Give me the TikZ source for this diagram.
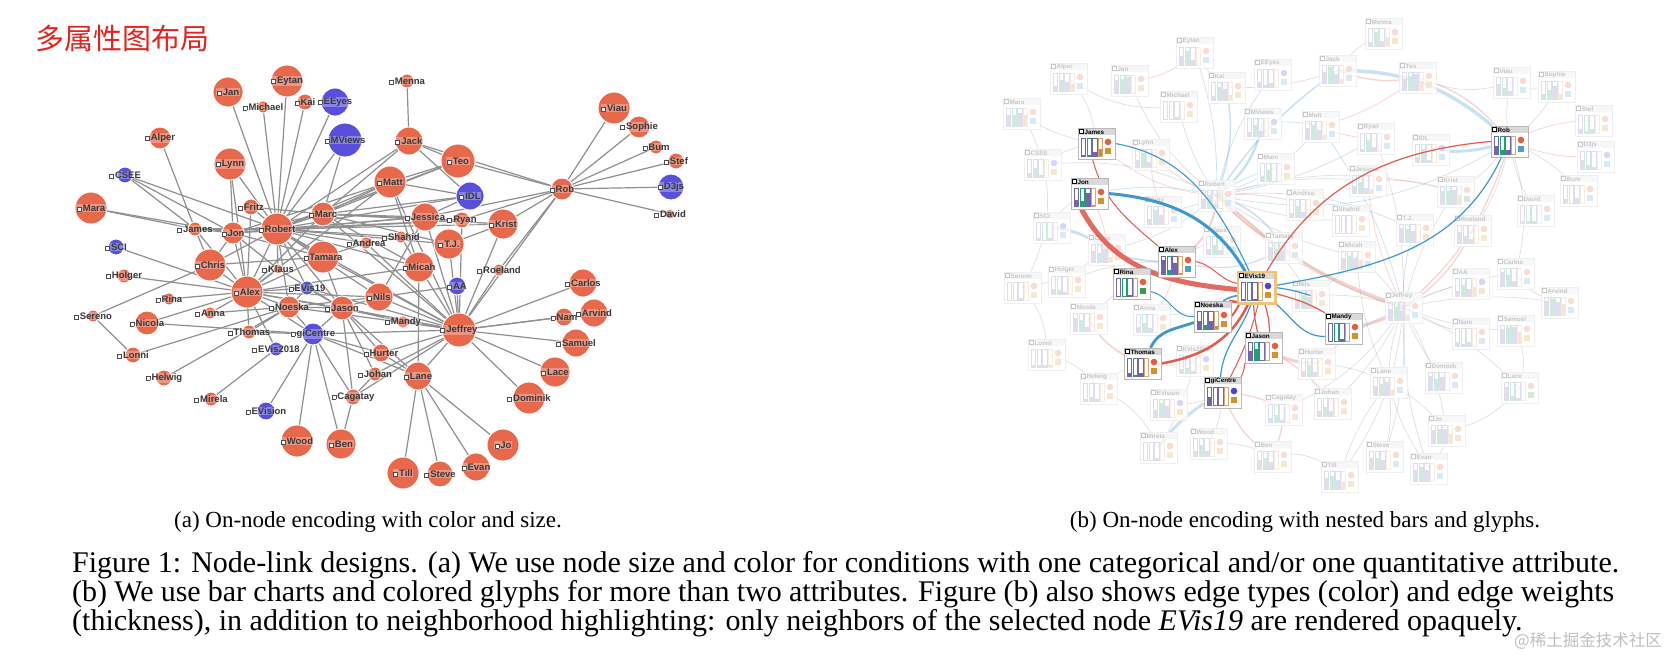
\documentclass[tikz,border=0pt]{standalone}
\usepackage{fontspec}
\setmainfont{Liberation Serif}
\newfontfamily\labsans{Liberation Sans}
\newfontfamily\cjkfont{Noto Sans CJK SC}
\definecolor{nodeor}{HTML}{E8684C}
\definecolor{nodebl}{HTML}{5850DC}
\definecolor{edgegr}{HTML}{8F8F8F}
\definecolor{titlered}{HTML}{E3231E}
\definecolor{barpu}{HTML}{7464AE}
\definecolor{bargr}{HTML}{22A070}
\definecolor{baror}{HTML}{D9A878}
\definecolor{barorf}{HTML}{D0883A}
\definecolor{glred}{HTML}{E2603C}
\definecolor{glblue}{HTML}{4A40E0}
\definecolor{sqor}{HTML}{D4922E}
\definecolor{sqbl}{HTML}{4A9ED0}
\definecolor{sqgr}{HTML}{3E9A48}
\definecolor{hdr}{HTML}{D9D9D9}
\definecolor{bdr}{HTML}{B8B8B8}
\definecolor{hlred}{HTML}{E25A50}
\definecolor{hlblue}{HTML}{3E98CC}
\definecolor{evor}{HTML}{F2C27C}
\newcommand{\sqmark}{\raisebox{0.5pt}{\setlength{\fboxsep}{0pt}\setlength{\fboxrule}{0.7pt}\fcolorbox{black!70}{white}{\rule{0pt}{3.3pt}\rule{3.3pt}{0pt}}}\hspace{1.2pt}}
\newcommand{\rlabfont}{\labsans\bfseries\fontsize{6.3}{7}\selectfont}
\def\tnt{100}
\def\bop{1}
\def\curname{x}
\newcommand{\drawbox}[9]{%
\begin{scope}[shift={(#1,#2)}]
 \fill[white, fill opacity=\bop] (0,0) rectangle (37,31);
 \fill[hdr!\tnt] (0,0) rectangle (37,7.3);
 \draw[bdr!\tnt, line width=0.6pt] (0,0) rectangle (37,31);
 \draw[fill=white, draw=black!\tnt, line width=0.7pt] (1.6,1.7) rectangle (5.7,5.8);
 \node[anchor=west, inner sep=0pt, font=\rlabfont, text=black!\tnt] (T\curname) at (6.4,3.9) {#3};
 \fill[barpu!\tnt] (3.3,28) rectangle (7.6,{28-18*#4});
 \fill[bargr!\tnt] (9,28) rectangle (13.3,{28-18*#5});
 \fill[barpu!\tnt] (14.7,28) rectangle (19,{28-18*#6});
 \fill[barorf!\tnt] (20.3,28) rectangle (24.6,{28-18*#7});
 \draw[barpu!\tnt, line width=0.6pt] (3.3,9.8) rectangle (7.6,28);
 \draw[bargr!\tnt, line width=0.6pt] (9,9.8) rectangle (13.3,28);
 \draw[barpu!\tnt, line width=0.6pt] (14.7,9.8) rectangle (19,28);
 \draw[baror!\tnt, line width=0.6pt] (20.3,9.8) rectangle (24.6,28);
 \fill[#8!\tnt] (30,14) circle (3.3pt);
 \fill[#9!\tnt] (27,19.7) rectangle (33,25.7);
\end{scope}}
\tikzset{
 ledge/.style={draw=edgegr, line width=1.2pt},
 lcirc/.style={circle, draw=white, line width=0.9pt, inner sep=0pt},
 llab/.style={font={\labsans\bfseries\fontsize{9.5}{10}\selectfont}, text=black!78, fill=white, fill opacity=0.3, text opacity=1, inner sep=0.6pt},
 fedge/.style={opacity=0.28},
 hedge/.style={line width=1.2pt},
 capfont/.style={font={\fontsize{30}{29}\selectfont}, inner sep=0pt, anchor=base west},
 subcap/.style={font={\fontsize{23}{26}\selectfont}, inner sep=0pt, anchor=base}
}
\def\leftnodes{Jan/228/92/15/nodeor/Jan,%
Eytan/287/81/16/nodeor/Eytan,%
Michael/263/107/6/nodeor/Michael,%
Kai/305/102/8/nodeor/Kai,%
EEyes/335/102/14/nodebl/EEyes,%
MViews/345/140/17/nodebl/MViews,%
Alper/160/138/11/nodeor/Alper,%
Lynn/230/164/16/nodeor/Lynn,%
CSEE/125/175/8/nodebl/CSEE,%
Mara/91/208/16/nodeor/Mara,%
Fritz/251/207/8/nodeor/Fritz,%
Marc/323/214/12/nodeor/Marc,%
James/195/229/7/nodeor/James,%
Jon/233/233/11/nodeor/Jon,%
Robert/277/229/16/nodeor/Robert,%
SCI/116/247/8/nodebl/SCI,%
Tamara/323/257/16/nodeor/Tamara,%
Chris/210/265/16/nodeor/Chris,%
Holger/124/276/7/nodeor/Holger,%
Klaus/278/269/5/nodeor/Klaus,%
Andrea/366/243/6/nodeor/Andrea,%
Menna/407/81/7/nodeor/Menna,%
Jack/409/141/14/nodeor/Jack,%
Teo/458/161/17/nodeor/Teo,%
Matt/390/182/16/nodeor/Matt,%
IDL/470/196/14/nodebl/IDL,%
Viau/614/108/16/nodeor/Viau,%
Sophie/639/127/11/nodeor/Sophie,%
Bum/656/147/7/nodeor/Bum,%
Stef/676/161/8/nodeor/Stef,%
D3js/671/187/13/nodebl/D3js,%
David/670/214/5/nodeor/David,%
Rob/562/189/11/nodeor/Rob,%
Jessica/425/217/14/nodeor/Jessica,%
Ryan/462/220/8/nodeor/Ryan,%
Krist/503/224/15/nodeor/Krist,%
Shahid/401/237/6/nodeor/Shahid,%
TJ/449/244/15/nodeor/T.J.,%
Micah/419/267/15/nodeor/Micah,%
Roeland/499/270/6/nodeor/Roeland,%
Alex/247/292/16/nodeor/Alex,%
EVis19/307/288/7/nodebl/EVis19,%
Rina/169/299/6/nodeor/Rina,%
Noeska/289/307/11/nodeor/Noeska,%
Jason/342/308/12/nodeor/Jason,%
Sereno/93/316/6/nodeor/Sereno,%
Nicola/147/323/12/nodeor/Nicola,%
Anna/210/313/6/nodeor/Anna,%
Thomas/249/332/7/nodeor/Thomas,%
giCentre/313/334/11/nodebl/giCentre,%
EVis2018/276/349/7/nodebl/EVis2018,%
Lonni/133/355/8/nodeor/Lonni,%
Helwig/164/378/8/nodeor/Helwig,%
Mirela/211/399/7/nodeor/Mirela,%
EVision/266/411/9/nodebl/EVision,%
Wood/297/441/16/nodeor/Wood,%
Ben/341/444/15/nodeor/Ben,%
Cagatay/353/397/8/nodeor/Cagatay,%
AA/457/286/9/nodebl/AA,%
Nils/379/297/14/nodeor/Nils,%
Mandy/403/322/6/nodeor/Mandy,%
Jeffrey/459/330/17/nodeor/Jeffrey,%
Hurter/381/353/9/nodeor/Hurter,%
Johan/375/374/7/nodeor/Johan,%
Lane/418/376/14/nodeor/Lane,%
Carlos/583/283/14/nodeor/Carlos,%
Nam/564/317/9/nodeor/Nam,%
Arvind/594/313/14/nodeor/Arvind,%
Samuel/576/343/14/nodeor/Samuel,%
Lace/555/372/15/nodeor/Lace,%
Dominik/529/398/16/nodeor/Dominik,%
Jo/503/445/16/nodeor/Jo,%
Till/403/473/16/nodeor/Till,%
Steve/440/474/13/nodeor/Steve,%
Evan/476/467/14/nodeor/Evan}
\def\leftedges{Robert/Jan,Robert/Eytan,Robert/Michael,Robert/Kai,Robert/EEyes,Robert/MViews,Robert/Lynn,Robert/Fritz,Robert/CSEE,Robert/James,Robert/Jon,Robert/Chris,Robert/Marc,Robert/Tamara,Robert/Klaus,Robert/Alex,Robert/Jack,Robert/Matt,Robert/Teo,Robert/Jessica,Robert/Ryan,Robert/Krist,Robert/Shahid,Robert/Andrea,Robert/TJ,Robert/Micah,Robert/Jeffrey,Robert/Nils,Robert/Jason,Robert/EVis19,Robert/Noeska,Robert/IDL,%
Marc/Matt,Marc/Jack,Marc/Teo,Marc/Jessica,Marc/Ryan,Marc/Krist,Marc/IDL,Marc/TJ,Marc/Micah,Marc/Jeffrey,Marc/Fritz,Marc/Jon,Marc/Alex,Marc/MViews,%
Jon/James,Jon/Alex,Jon/Chris,Jon/Klaus,Jon/Mara,Jon/CSEE,Jon/Matt,Jon/Jessica,Jon/Tamara,Jon/Lynn,Jon/Ryan,%
Alex/Chris,Alex/Holger,Alex/SCI,Alex/Rina,Alex/Anna,Alex/Nicola,Alex/Thomas,Alex/EVis2018,Alex/Noeska,Alex/Jason,Alex/EVis19,Alex/Klaus,Alex/Tamara,Alex/Lynn,Alex/Fritz,Alex/James,Alex/Jeffrey,Alex/Micah,Alex/giCentre,Alex/Nils,Alex/Matt,%
Chris/Sereno,Chris/James,Chris/Tamara,%
Noeska/Anna,Noeska/Lonni,Noeska/Helwig,Noeska/Thomas,Noeska/Jason,Noeska/giCentre,Noeska/Jeffrey,Noeska/EVis19,Noeska/Nils,%
giCentre/Wood,giCentre/Ben,giCentre/EVision,giCentre/Cagatay,giCentre/Jason,giCentre/Jeffrey,giCentre/Lane,giCentre/Nicola,giCentre/Thomas,giCentre/Hurter,%
Jason/Jeffrey,Jason/Hurter,Jason/Lane,Jason/Nils,Jason/Tamara,Jason/Mandy,Jason/EVis19,Jason/Cagatay,Jason/Johan,%
Jeffrey/Carlos,Jeffrey/Nam,Jeffrey/Arvind,Jeffrey/Samuel,Jeffrey/Lace,Jeffrey/Dominik,Jeffrey/AA,Jeffrey/Roeland,Jeffrey/Krist,Jeffrey/Ryan,Jeffrey/TJ,Jeffrey/Micah,Jeffrey/Nils,Jeffrey/Mandy,Jeffrey/Hurter,Jeffrey/Johan,Jeffrey/Lane,Jeffrey/Rob,Jeffrey/Jessica,Jeffrey/Matt,Jeffrey/Tamara,Jeffrey/Cagatay,Jeffrey/EVis19,%
Lane/Till,Lane/Steve,Lane/Evan,Lane/Jo,Lane/Micah,Lane/Hurter,%
Rob/Viau,Rob/Sophie,Rob/Bum,Rob/Stef,Rob/D3js,Rob/David,Rob/Krist,Rob/Ryan,Rob/Roeland,Rob/Jessica,Rob/Jack,Rob/Teo,%
Menna/Jack,Jack/Teo,Jack/IDL,Matt/Teo,Matt/IDL,Matt/Micah,Alper/James,Mara/James,Sereno/Lonni,Mirela/EVis2018,Ben/Cagatay,Nils/AA,Jessica/IDL,TJ/Krist,Shahid/Micah,Andrea/Tamara,Andrea/Jeffrey,Klaus/Jason,Nils/Jessica,Johan/Cagatay,CSEE/James}
\def\rightfaded{Menna/Menna/1365/18/.2/.8/.3/.5/glred/sqor,%
Eytan/Eytan/1176/37/.5/.8/.3/0/glred/sqbl,%
Jack/Jack/1319/55/.6/.9/.5/.2/glred/sqbl,%
Alper/Alper/1050/63/.3/.6/.5/.4/glred/sqbl,%
Jan/Jan/1111/65/.7/.8/.9/0/glred/sqor,%
EEyes/EEyes/1254/59/.3/.1/.2/0/glblue/sqbl,%
Teo/Teo/1399/62/.6/.8/.9/.5/glred/sqor,%
Kai/Kai/1208/72/.2/.7/.6/.3/glred/sqor,%
Viau/Viau/1493/67/.6/.4/.2/0/glred/sqbl,%
Sophie/Sophie/1538/71/.3/.5/.7/.3/glred/sqbl,%
Michael/Michael/1160/91/0/0/.1/0/glred/sqor,%
Mara/Mara/1003/98/.6/.6/.7/.6/glred/sqbl,%
Stef/Stef/1575/105/.2/.1/.2/0/glred/sqor,%
MViews/MViews/1244/108/.2/.6/.3/0/glblue/sqbl,%
Matt/Matt/1302/111/.6/.8/.5/.2/glred/sqbl,%
Ryan/Ryan/1357/123/.1/.6/.2/0/glred/sqbl,%
IDL/IDL/1412/134/.3/.7/.1/0/glblue/sqbl,%
Lynn/Lynn/1132/139/.4/.8/.3/0/glred/sqor,%
CSEE/CSEE/1024/149/.2/.5/.1/0/glblue/sqor,%
D3js/D3js/1577/141/.5/.2/.1/0/glblue/sqbl,%
Marc/Marc/1257/153/.3/.6/0/0/glred/sqor,%
Jessica/Jessica/1349/165/.4/.6/.3/.2/glred/sqbl,%
Krist/Krist/1437/176/.7/.7/.8/.5/glred/sqgr,%
Bum/Bum/1560/175/.2/0/.3/0/glred/sqbl,%
Robert/Robert/1198/180/.5/.7/.2/0/glred/sqbl,%
David/David/1517/195/.1/.1/.1/0/glred/sqbl,%
Andrea/Andrea/1286/189/.2/.6/.3/0/glred/sqor,%
Fritz/Fritz/1144/196/.3/.8/.5/0/glred/sqbl,%
Shahid/Shahid/1332/205/0/0/0/0/glred/sqor,%
SCI/SCI/1033/212/.1/0/.1/0/glblue/sqbl,%
TJ/T.J./1396/214/.8/.7/.6/0/glred/sqor,%
Roeland/Roeland/1454/215/.6/.4/.2/0/glred/sqor,%
Klaus/Klaus/1203/226/.3/.5/.2/0/glred/sqbl,%
Chris/Chris/1088/234/.6/.5/.7/.3/glred/sqor,%
Tamara/Tamara/1265/232/.7/.6/.5/0/glred/sqbl,%
Micah/Micah/1338/241/.6/.7/.6/.5/glred/sqbl,%
Carlos/Carlos/1497/258/.8/.6/.3/0/glred/sqbl,%
AA/AA/1452/268/.3/.6/.4/.5/glblue/sqor,%
Sereno/Sereno/1004/272/0/0/.1/0/glred/sqor,%
Holger/Holger/1048/266/.3/.2/.1/0/glred/sqor,%
Arvind/Arvind/1541/287/.8/.9/.7/.6/glred/sqbl,%
Nils/Nils/1292/280/.5/.7/.6/0/glred/sqor,%
Jeffrey/Jeffrey/1385/292/.6/.7/.5/.3/glred/sqbl,%
Nicola/Nicola/1070/303/.7/.6/.2/0/glred/sqor,%
Anna/Anna/1133/304/.3/.5/.2/0/glred/sqor,%
Nam/Nam/1452/318/.2/.1/.2/0/glred/sqbl,%
Samuel/Samuel/1497/315/.8/.9/.9/.6/glred/sqor,%
Lonni/Lonni/1028/339/.1/.1/.1/.1/glred/sqor,%
Hurter/Hurter/1298/348/.3/.6/.2/0/glred/sqor,%
EVis2018/EVis2018/1176/345/.2/.3/.1/0/glblue/sqor,%
Dominik/Dominik/1425/362/.8/.6/.7/0/glred/sqbl,%
Lane/Lane/1370/367/.5/.6/.7/.3/glred/sqbl,%
Lace/Lace/1501/372/.7/.2/.1/0/glred/sqgr,%
Helwig/Helwig/1080/373/.1/.2/.1/0/glred/sqor,%
Johan/Johan/1314/388/.3/.5/.3/0/glred/sqor,%
EVision/EVision/1150/389/.4/.8/.6/0/glblue/sqor,%
Cagatay/Cagatay/1265/394/.2/.4/.1/0/glred/sqor,%
Jo/Jo/1428/415/.7/.8/.8/.5/glred/sqor,%
Mirela/Mirela/1140/432/0/0/.1/0/glred/sqor,%
Wood/Wood/1190/428/.3/.6/.3/0/glred/sqor,%
Ben/Ben/1254/441/.5/.6/.4/0/glred/sqor,%
Steve/Steve/1366/441/.6/.6/.5/0/glred/sqbl,%
Evan/Evan/1410/453/.6/.8/.6/0/glred/sqbl,%
Till/Till/1321/461/.6/.7/.5/.4/glred/sqor}
\def\righthl{James/James/1078/128/.08/.05/.2/.4/glred/sqor,%
Jon/Jon/1071/178/.35/.3/.75/.05/glred/sqor,%
Alex/Alex/1158/246/.8/.25/.6/.05/glred/sqbl,%
Rina/Rina/1113/268/0/0/.05/0/glred/sqgr,%
EVis19/EVis19/1238/272/.05/0/.05/0/glblue/sqor,%
Noeska/Noeska/1194/301/.45/.2/.45/.15/glred/sqor,%
Jason/Jason/1245/332/.5/.6/0/0/glred/sqor,%
Mandy/Mandy/1325/313/0/0/.1/0/glred/sqor,%
Thomas/Thomas/1124/348/.15/.06/.15/0/glred/sqor,%
giCentre/giCentre/1204/377/.45/0/0/0/glblue/sqor,%
Rob/Rob/1491/126/.45/.2/.25/0/glred/sqbl}
\def\fadededges{Robert/Jan/15/edgegr/0.7,Robert/Eytan/-10/hlblue/0.7,Robert/Michael/10/edgegr/0.7,Robert/Kai/-15/hlblue/1.5,Robert/EEyes/12/hlblue/0.7,Robert/MViews/-20/hlblue/2.5,Robert/Lynn/10/hlred/0.7,Robert/Fritz/10/edgegr/0.7,Robert/CSEE/-15/edgegr/0.7,Robert/James/15/hlred/0.7,Robert/Jon/-10/hlblue/0.7,Robert/Chris/15/edgegr/0.7,Robert/Klaus/10/edgegr/0.7,Robert/Tamara/-10/hlred/0.7,Robert/Marc/10/hlblue/0.7,Robert/Matt/-15/edgegr/0.7,Robert/Jack/10/hlblue/1.5,Robert/Alex/20/hlred/2,Robert/Jessica/10/edgegr/0.7,Robert/Ryan/-10/hlblue/0.7,Robert/Krist/15/edgegr/0.7,Robert/Andrea/10/hlred/0.7,Robert/Shahid/-10/edgegr/0.7,Robert/TJ/15/hlblue/0.7,Robert/Micah/-10/edgegr/0.7,Robert/Jeffrey/-12/hlred/4,Robert/Nils/10/edgegr/0.7,Robert/Rob/-20/hlblue/0.7,Robert/Tamara/20/hlblue/1.5,%
Jeffrey/Carlos/10/edgegr/0.7,Jeffrey/Nam/-10/hlblue/0.7,Jeffrey/Arvind/10/edgegr/0.7,Jeffrey/Samuel/-10/edgegr/0.7,Jeffrey/Lace/10/edgegr/0.7,Jeffrey/Dominik/-10/hlblue/0.7,Jeffrey/AA/10/edgegr/0.7,Jeffrey/Roeland/-15/hlred/1.2,Jeffrey/Krist/10/edgegr/0.7,Jeffrey/Ryan/-10/edgegr/0.7,Jeffrey/TJ/10/hlblue/0.7,Jeffrey/Micah/-10/edgegr/0.7,Jeffrey/Hurter/-10/hlblue/0.7,Jeffrey/Johan/10/edgegr/0.7,Jeffrey/Lane/-10/edgegr/0.7,Jeffrey/Jessica/10/hlred/0.7,Jeffrey/Rob/-15/hlred/1.2,Jeffrey/Cagatay/15/edgegr/0.7,Jeffrey/Jo/10/edgegr/0.7,Jeffrey/Evan/-10/hlblue/0.7,Jeffrey/Steve/10/edgegr/0.7,Jeffrey/Till/15/edgegr/0.7,Jeffrey/Matt/-10/hlblue/0.7,Jeffrey/Tamara/10/edgegr/0.7,Jeffrey/Mandy/10/hlred/3,Jeffrey/Nils/-10/edgegr/0.7,%
Rob/Viau/10/edgegr/0.7,Rob/Sophie/-10/edgegr/0.7,Rob/Stef/10/hlred/0.7,Rob/D3js/-10/hlred/0.7,Rob/Bum/10/edgegr/0.7,Rob/David/-10/edgegr/0.7,Rob/Krist/10/edgegr/0.7,Rob/Teo/-15/hlred/1.2,Rob/Jack/-20/hlblue/3.5,Rob/IDL/10/hlblue/3,Rob/Roeland/10/edgegr/0.7,Rob/Carlos/15/edgegr/0.7,%
Lane/Till/-10/edgegr/0.7,Lane/Steve/10/edgegr/0.7,Lane/Evan/-10/edgegr/0.7,Lane/Jo/10/edgegr/0.7,Lane/Micah/10/edgegr/0.7,Lane/Hurter/-10/edgegr/0.7,%
giCentre/Wood/10/edgegr/0.7,giCentre/Ben/-15/hlred/1.2,giCentre/EVision/10/edgegr/0.7,giCentre/Mirela/-10/hlblue/3,giCentre/Cagatay/10/hlred/1.2,%
Alex/Chris/10/hlblue/2,Alex/Holger/-10/edgegr/0.7,Alex/Anna/10/hlred/0.7,Alex/Nicola/-10/edgegr/0.7,Alex/Klaus/10/edgegr/0.7,SCI/Chris/15/hlblue/3,Sereno/Chris/-15/edgegr/0.7,Sereno/Lonni/20/edgegr/0.7,Mara/James/-10/edgegr/0.7,Alper/James/15/edgegr/0.7,CSEE/James/10/edgegr/0.7,Helwig/Thomas/10/edgegr/0.7,Nicola/Thomas/-15/hlred/1.5,Anna/Noeska/10/edgegr/0.7,EVis2018/Thomas/10/edgegr/0.7,Mirela/EVis2018/-10/edgegr/0.7,Jason/Hurter/-10/hlred/3,Jason/Johan/10/hlred/1.2,Cagatay/Ben/10/hlred/1.2,Menna/Jack/-15/edgegr/0.7,Jack/Teo/-15/hlred/1.2,Teo/Matt/10/hlred/0.7,Matt/Ryan/-10/hlred/0.7,Jack/Kai/10/edgegr/0.7,Eytan/Kai/-10/edgegr/0.7,Jon/Chris/10/hlred/0.7,Jon/SCI/-15/hlblue/0.7,Mara/Sereno/30/edgegr/0.7,Lonni/Helwig/20/edgegr/0.7,Helwig/Mirela/20/edgegr/0.7,Wood/Ben/15/edgegr/0.7,Ben/Till/30/edgegr/0.7,Alper/Michael/-20/edgegr/0.7,Jan/Eytan/-20/hlred/0.7,Teo/Viau/-20/edgegr/0.7,Viau/Sophie/-20/edgegr/0.7,Samuel/Lace/20/edgegr/0.7,Lace/Jo/20/edgegr/0.7,Jo/Evan/20/edgegr/0.7,Carlos/Arvind/-20/edgegr/0.7,Jessica/Krist/10/hlred/0.7,Micah/Nils/10/hlblue/0.7,MViews/Matt/10/hlblue/0.7,Alex/Tamara/-20/hlblue/1.2,Fritz/Lynn/10/edgegr/0.7}
\begin{document}
\begin{tikzpicture}[x=1pt,y=-1pt]
\useasboundingbox (0,0) rectangle (1678,656);
\fill[white] (0,0) rectangle (1678,656);
% title
\node[font={\cjkfont\fontsize{29}{32}\selectfont}, text=titlered, inner sep=0pt] (title) at (122,38) {多属性图布局};
% ---------- left graph ----------
\foreach \nn/\xx/\yy/\rr/\cl/\lb in \leftnodes { \coordinate (L\nn) at (\xx,\yy); }
\foreach \a/\b in \leftedges { \draw[ledge] (L\a) -- (L\b); }
\foreach \nn/\xx/\yy/\rr/\cl/\lb in \leftnodes {
  \node[lcirc, fill=\cl, minimum size={2*\rr*1pt}] (C\nn) at (L\nn) {};
  \node[llab] (T\nn) at (L\nn) {\sqmark\lb};
}
% ---------- right graph ----------
\foreach \nn/\lb/\xx/\yy/\ha/\hb/\hc/\hd/\gc/\gs in \rightfaded { \coordinate (R\nn) at ({\xx+18.5},{\yy+15.5}); }
\foreach \nn/\lb/\xx/\yy/\ha/\hb/\hc/\hd/\gc/\gs in \righthl { \node[minimum width=37pt, minimum height=31pt, inner sep=0pt] (R\nn) at ({\xx+18.5},{\yy+15.5}) {}; }
\foreach \a/\b/\bd/\cl/\w in \fadededges { \draw[fedge, draw=\cl, line width=\w pt] (R\a) to[bend left=\bd] (R\b); }
\def\tnt{22}\def\bop{0.72}
\foreach \nn/\lb/\xx/\yy/\ha/\hb/\hc/\hd/\gc/\gs in \rightfaded { \def\curname{\nn}\drawbox{\xx}{\yy}{\lb}{\ha}{\hb}{\hc}{\hd}{\gc}{\gs} }
% highlighted edges
\draw[hedge, hlblue, line width=1.1pt] (RJames.east) to[out=-10,in=115] ([xshift=-7pt]REVis19.north);
\draw[hedge, hlblue, line width=3pt] (RJon.east) to[out=-5,in=120] ([xshift=-11pt]REVis19.north);
\draw[hedge, hlred, line width=5pt, opacity=0.9] ([xshift=-8pt]RJon.south) to[out=-62,in=175] ([yshift=-2pt]REVis19.west);
\draw[hedge, hlred, line width=1pt] ([xshift=-4pt]RJames.south) to[out=-75,in=140] (RAlex.north west);
\draw[hedge, hlred, line width=1pt] (RAlex.east) to[out=-10,in=170] ([yshift=4pt]REVis19.west);
\draw[hedge, hlblue, line width=1pt] ([yshift=-8pt]RRina.east) to[out=-10,in=185] (RNoeska.west);
\draw[hedge, hlred, line width=2.5pt] ([xshift=-2pt]RNoeska.north east) -- ([xshift=6pt]REVis19.south west);
\draw[hedge, hlred, line width=2pt] (RNoeska.east) to[bend right=10] ([xshift=3pt,yshift=3pt]REVis19.south west);
\draw[hedge, hlblue, line width=1.6pt] ([xshift=-8pt]RNoeska.north east) to[bend left=10] ([yshift=-8pt]REVis19.west);
\draw[hedge, hlblue, line width=2.8pt] ([xshift=8pt]RThomas.north) to[out=65,in=200] ([yshift=-6pt]RNoeska.west);
\draw[hedge, hlred, line width=2.5pt] (RThomas.east) to[out=10,in=245] ([xshift=-8pt]REVis19.south);
\draw[hedge, hlred] ([xshift=-3pt]REVis19.south) to[bend right=5] ([xshift=-6pt]RJason.north);
\draw[hedge, hlred] ([xshift=8pt]REVis19.south) to[bend left=8] ([xshift=6pt]RJason.north);
\draw[hedge, hlblue] ([xshift=-2pt]RgiCentre.north) to[out=85,in=250] ([xshift=-5pt]REVis19.south);
\draw[hedge, hlred, line width=1pt] ([xshift=2pt]REVis19.south) to[bend left=6] ([xshift=8pt]RgiCentre.north);
\draw[hedge, hlred, line width=1pt] (RgiCentre.north east) to[bend right=10] (RJason.south west);
\draw[hedge, hlblue] ([yshift=-8pt]RMandy.west) to[out=180,in=-40] (REVis19.south east);
\draw[hedge, hlred] ([yshift=-6pt]REVis19.east) to[out=-15,in=150] (RMandy.north west);
\draw[hedge, hlblue] (REVis19.east) to[bend left=5] (RNils);
\draw[hedge, hlred] (RRob.west) to[out=185,in=60] ([xshift=10pt]REVis19.north);
\draw[hedge, hlblue] ([xshift=-8pt]RRob.south) to[out=-115,in=10] ([yshift=2pt]REVis19.east);
% highlighted boxes
\def\tnt{100}\def\bop{1}
\foreach \nn/\lb/\xx/\yy/\ha/\hb/\hc/\hd/\gc/\gs in \righthl { \def\curname{\nn}\drawbox{\xx}{\yy}{\lb}{\ha}{\hb}{\hc}{\hd}{\gc}{\gs} }
\draw[evor, line width=2.6pt] (REVis19.south west) rectangle (REVis19.north east);
% ---------- captions ----------
\node[subcap] (capa) at (368,527) {(a) On-node encoding with color and size.};
\node[subcap] (capb) at (1305,527) {(b) On-node encoding with nested bars and glyphs.};
\node[capfont] (cap1) at (72,572) {\makebox[1547pt][s]{Figure 1: Node-link designs. (a) We use node size and color for conditions with one categorical and/or one quantitative attribute.}};
\node[capfont] (cap2) at (72,601) {\makebox[1542pt][s]{(b) We use bar charts and colored glyphs for more than two attributes. Figure (b) also shows edge types (color) and edge weights}};
\node[capfont] (cap3) at (72,630) {(thickness), in addition to neighborhood highlighting: only neighbors of the selected node \textit{EVis19} are rendered opaquely.};
\node[font={\cjkfont\fontsize{16.5}{18}\selectfont}, text=black!25, anchor=west, inner sep=0pt] (wm) at (1514,641) {@稀土掘金技术社区};
\end{tikzpicture}
\end{document}
